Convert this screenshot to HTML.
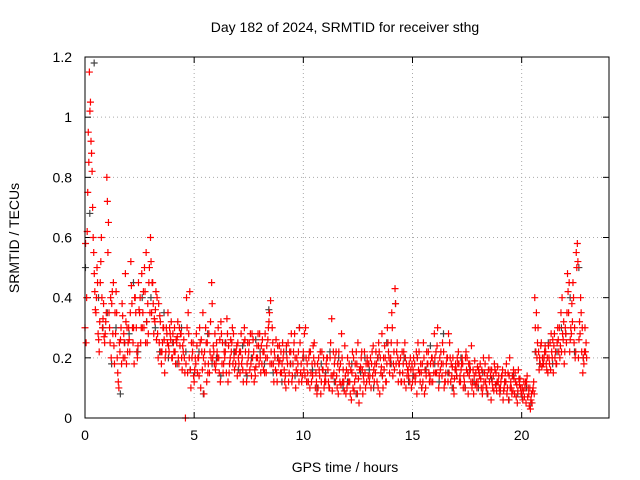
<!DOCTYPE html>
<html><head><meta charset="utf-8"><style>
body{margin:0;background:#fff}
svg{display:block;font-family:"Liberation Sans",sans-serif}
</style></head><body>
<svg id="chart" width="640" height="480">
<text x="345" y="32" text-anchor="middle" font-size="14">Day 182 of 2024, SRMTID for receiver sthg</text>
<text x="19" y="238" text-anchor="middle" font-size="14" transform="rotate(-90 19 238)">SRMTID / TECUs</text>
<text x="345" y="472" text-anchor="middle" font-size="14">GPS time / hours</text>
<g id="grid"></g>
<g id="ticks"></g>
<g id="grey"></g>
<g id="red"></g>
<rect x="85" y="57" width="524" height="361" fill="none" stroke="#000"/>
</svg>
<script>
const xTicks=[0,5,10,15,20];
const yTicks=[0,0.2,0.4,0.6,0.8,1,1.2];
const yTickLabels=["0","0.2","0.4","0.6","0.8","1","1.2"];
const redA=[
0.30,0.62,1.15,0.88,0.55,0.35,0.28,0.45,0.30,0.25,
0.80,0.35,0.20,0.45,0.28,0.15,0.22,0.38,0.25,0.18,
0.30,0.52,0.25,0.40,0.20,0.35,0.48,0.30,0.55,0.28,
0.60,0.45,0.32,0.40,0.25,0.18,0.30,0.22,0.35,0.28,
0.20,0.30,0.25,0.18,0.28,0.22,0.00,0.15,0.42,0.20,
0.12,0.28,0.20,0.10,0.35,0.18,0.25,0.15,0.45,0.22,
0.18,0.30,0.12,0.25,0.20,0.33,0.15,0.22,0.28,0.18,
0.25,0.15,0.20,0.30,0.12,0.22,0.18,0.26,0.14,0.20,
0.28,0.18,0.22,0.15,0.30,0.39,0.25,0.20,0.12,0.24,
0.15,0.22,0.10,0.25,0.18,0.14,0.28,0.20,0.12,0.18,
0.22,0.30,0.15,0.10,0.18,0.25,0.12,0.20,0.08,0.16,
0.14,0.20,0.10,0.33,0.15,0.22,0.08,0.18,0.12,0.24,
0.10,0.18,0.06,0.20,0.14,0.25,0.10,0.16,0.22,0.12,
0.18,0.10,0.24,0.15,0.20,0.08,0.28,0.16,0.12,0.22,
0.20,0.14,0.43,0.25,0.18,0.12,0.22,0.10,0.16,0.20,
0.12,0.18,0.08,0.22,0.15,0.25,0.10,0.18,0.14,0.20,
0.28,0.15,0.10,0.22,0.18,0.12,0.20,0.25,0.14,0.08,
0.16,0.22,0.12,0.18,0.10,0.20,0.14,0.24,0.08,0.15,
0.12,0.18,0.08,0.15,0.10,0.20,0.06,0.14,0.11,0.17,
0.08,0.14,0.10,0.18,0.06,0.12,0.09,0.15,0.05,0.11,
0.08,0.12,0.05,0.10,0.03,0.09,0.40,0.20,0.16,0.25,
0.18,0.22,0.15,0.25,0.20,0.28,0.18,0.22,0.35,0.26,
0.30,0.48,0.22,0.38,0.25,0.55,0.20,0.40,0.15,0.30];
const redB=[
0.25,0.95,1.05,0.70,0.42,0.50,0.22,0.60,0.38,0.32,
0.55,0.25,0.42,0.18,0.35,0.10,0.30,0.20,0.48,0.22,
0.22,0.38,0.18,0.30,0.45,0.25,0.35,0.42,0.25,0.50,
0.35,0.28,0.42,0.20,0.32,0.25,0.15,0.28,0.22,0.32,
0.25,0.18,0.32,0.24,0.16,0.20,0.40,0.28,0.10,0.25,
0.20,0.15,0.30,0.22,0.08,0.25,0.18,0.32,0.20,0.28,
0.22,0.15,0.28,0.18,0.25,0.12,0.20,0.30,0.16,0.24,
0.18,0.28,0.12,0.22,0.25,0.16,0.28,0.12,0.20,0.24,
0.15,0.22,0.28,0.20,0.35,0.18,0.12,0.26,0.20,0.15,
0.25,0.12,0.20,0.15,0.28,0.22,0.10,0.18,0.25,0.14,
0.28,0.12,0.20,0.15,0.24,0.10,0.18,0.14,0.22,0.10,
0.18,0.12,0.25,0.14,0.20,0.10,0.16,0.28,0.12,0.08,
0.15,0.08,0.22,0.12,0.18,0.05,0.20,0.14,0.10,0.18,
0.14,0.22,0.12,0.18,0.25,0.15,0.10,0.20,0.30,0.15,
0.35,0.22,0.18,0.12,0.20,0.15,0.25,0.14,0.18,0.10,
0.20,0.14,0.25,0.12,0.18,0.08,0.22,0.15,0.12,0.18,
0.15,0.30,0.20,0.14,0.10,0.18,0.28,0.12,0.20,0.16,
0.20,0.12,0.18,0.14,0.22,0.08,0.16,0.12,0.19,0.10,
0.15,0.10,0.20,0.12,0.08,0.16,0.12,0.18,0.09,0.14,
0.12,0.06,0.15,0.10,0.20,0.08,0.13,0.07,0.16,0.10,
0.06,0.10,0.14,0.04,0.08,0.12,0.22,0.30,0.18,0.20,
0.22,0.16,0.20,0.28,0.15,0.22,0.30,0.20,0.40,0.18,
0.25,0.35,0.30,0.45,0.20,0.58,0.32,0.22,0.18,0.25];
const redC=[
0.58,0.75,1.02,0.82,0.48,0.40,0.26,0.52,0.33,0.28,
0.72,0.30,0.38,0.24,0.42,0.12,0.26,0.34,0.20,0.30,
0.26,0.44,0.30,0.35,0.24,0.40,0.30,0.50,0.32,0.45,
0.52,0.38,0.36,0.28,0.34,0.22,0.26,0.30,0.24,0.26,
0.28,0.22,0.27,0.30,0.20,0.26,0.18,0.35,0.16,0.22,
0.16,0.24,0.14,0.26,0.20,0.30,0.15,0.22,0.38,0.18,
0.25,0.20,0.32,0.15,0.22,0.28,0.18,0.25,0.20,0.22,
0.20,0.22,0.16,0.26,0.18,0.25,0.14,0.22,0.17,0.28,
0.20,0.26,0.15,0.24,0.32,0.22,0.18,0.16,0.24,0.19,
0.18,0.16,0.24,0.12,0.22,0.18,0.20,0.15,0.30,0.12,
0.16,0.20,0.12,0.22,0.14,0.18,0.08,0.16,0.12,0.20,
0.12,0.16,0.20,0.09,0.18,0.14,0.22,0.11,0.16,0.14,
0.20,0.12,0.15,0.09,0.22,0.13,0.17,0.08,0.15,0.20,
0.12,0.18,0.16,0.22,0.10,0.20,0.14,0.24,0.18,0.20,
0.25,0.18,0.38,0.20,0.15,0.22,0.12,0.18,0.14,0.16,
0.16,0.12,0.20,0.15,0.10,0.20,0.14,0.22,0.18,0.12,
0.20,0.24,0.14,0.18,0.22,0.15,0.12,0.20,0.17,0.13,
0.14,0.18,0.16,0.10,0.20,0.15,0.18,0.10,0.14,0.12,
0.16,0.13,0.10,0.18,0.14,0.12,0.16,0.09,0.15,0.12,
0.10,0.16,0.12,0.08,0.14,0.10,0.16,0.12,0.09,0.13,
0.10,0.07,0.12,0.08,0.06,0.10,0.30,0.25,0.20,0.17,
0.20,0.18,0.24,0.16,0.26,0.20,0.25,0.30,0.22,0.32,
0.28,0.42,0.26,0.32,0.30,0.50,0.26,0.35,0.20,0.22];
const redD=[
0.40,0.85,0.92,0.60,0.36,0.45,0.32,0.40,0.27,0.35,
0.65,0.40,0.28,0.35,0.20,0.25,0.18,0.28,0.32,0.25,
0.35,0.30,0.40,0.22,0.36,0.30,0.42,0.25,0.38,0.35,
0.45,0.33,0.26,0.38,0.22,0.30,0.20,0.25,0.30,0.20,
0.22,0.26,0.20,0.28,0.24,0.15,0.30,0.20,0.25,0.14,
0.18,0.20,0.25,0.16,0.22,0.12,0.28,0.20,0.24,0.16,
0.20,0.26,0.18,0.22,0.15,0.24,0.26,0.18,0.22,0.14,
0.22,0.18,0.25,0.15,0.20,0.28,0.20,0.16,0.24,0.18,
0.24,0.16,0.20,0.26,0.18,0.30,0.22,0.15,0.18,0.22,
0.20,0.14,0.18,0.22,0.12,0.25,0.16,0.22,0.15,0.20,
0.14,0.18,0.22,0.12,0.20,0.15,0.10,0.22,0.16,0.12,
0.20,0.10,0.14,0.22,0.12,0.18,0.12,0.20,0.09,0.16,
0.12,0.16,0.10,0.18,0.08,0.16,0.22,0.12,0.18,0.14,
0.20,0.14,0.18,0.12,0.22,0.17,0.20,0.12,0.25,0.18,
0.30,0.16,0.22,0.18,0.12,0.18,0.20,0.16,0.12,0.18,
0.14,0.22,0.16,0.18,0.12,0.16,0.18,0.12,0.20,0.15,
0.22,0.18,0.16,0.25,0.12,0.20,0.15,0.18,0.10,0.18,
0.18,0.14,0.20,0.12,0.16,0.18,0.12,0.16,0.11,0.17,
0.14,0.16,0.12,0.10,0.16,0.14,0.10,0.16,0.12,0.10,
0.14,0.09,0.12,0.15,0.10,0.14,0.08,0.11,0.13,0.08,
0.09,0.12,0.07,0.10,0.05,0.08,0.35,0.22,0.24,0.18,
0.24,0.20,0.18,0.22,0.24,0.18,0.26,0.24,0.28,0.22,
0.35,0.45,0.28,0.40,0.22,0.52,0.28,0.30,0.22,0.20];
const greyC=[
0.50,0.68,1.18,0.40,0.30,
0.35,0.18,0.30,0.08,0.25,
0.28,0.45,0.22,0.40,0.32,
0.40,0.30,0.22,0.35,0.20,
0.25,0.18,0.30,0.22,0.16,
0.15,0.22,0.08,0.28,0.18,
0.20,0.14,0.25,0.18,0.22,
0.16,0.24,0.14,0.20,0.26,
0.22,0.18,0.36,0.15,0.20,
0.12,0.22,0.18,0.14,0.30,
0.20,0.12,0.16,0.10,0.18,
0.15,0.22,0.12,0.20,0.10,
0.12,0.18,0.08,0.15,0.20,
0.16,0.10,0.20,0.14,0.25,
0.18,0.38,0.15,0.20,0.12,
0.14,0.20,0.10,0.16,0.24,
0.18,0.12,0.28,0.15,0.10,
0.14,0.20,0.10,0.16,0.12,
0.10,0.15,0.08,0.13,0.11,
0.09,0.12,0.06,0.14,0.08,
0.07,0.10,0.05,0.22,0.18,
0.20,0.25,0.18,0.22,0.30,
0.28,0.40,0.22,0.50,0.20];
const NS="http://www.w3.org/2000/svg";
const X0=85,X1=609,Y0=418,Y1=57,XMAX=24,YMAX=1.2;
function xs(t){return X0+(X1-X0)*t/XMAX;}
function ys(v){return Y0-(Y0-Y1)*v/YMAX;}
function mk(tag,attrs,parent){const e=document.createElementNS(NS,tag);for(const k in attrs)e.setAttribute(k,attrs[k]);parent.appendChild(e);return e;}
const grid=document.getElementById('grid'),ticks=document.getElementById('ticks');
xTicks.forEach(t=>{const x=xs(t);
 if(t>0){const g=mk('line',{x1:x,y1:Y0,x2:x,y2:Y1,stroke:'#aaa','stroke-dasharray':'1,3'},grid);
 
 }
 mk('line',{x1:x,y1:Y0,x2:x,y2:Y0-6,stroke:'#000'},ticks);
 mk('line',{x1:x,y1:Y1,x2:x,y2:Y1+6,stroke:'#000'},ticks);
 const l=mk('text',{x:x,y:Y0+22,'text-anchor':'middle','font-size':14},ticks);l.textContent=t;
 
 
});
yTicks.forEach((v,i)=>{const y=ys(v);
 if(v>0&&v<YMAX){const g=mk('line',{x1:X0,y1:y,x2:X1,y2:y,stroke:'#aaa','stroke-dasharray':'1,3'},grid);
 
 }
 mk('line',{x1:X0,y1:y,x2:X0+6,y2:y,stroke:'#000'},ticks);
 mk('line',{x1:X1,y1:y,x2:X1-6,y2:y,stroke:'#000'},ticks);
 const l=mk('text',{x:X0-13,y:y+5,'text-anchor':'end','font-size':14},ticks);l.textContent=yTickLabels[i];
 
 
});
function plus(parent,t,v,color,name){const x=xs(t),y=ys(v);
 const p=mk('path',{d:`M${x-3.5},${y}H${x+3.5}M${x},${y-3.5}V${y+3.5}`,stroke:color,'stroke-width':1.2,fill:'none'},parent);
 
 
}
const grey=document.getElementById('grey'),red=document.getElementById('red');
greyC.forEach((v,i)=>plus(grey,0.02+i*0.2,v,'#444','grey-point'));
redA.forEach((v,i)=>plus(red,i*0.1,v,'#f00','red-point'));
redB.forEach((v,i)=>plus(red,0.05+i*0.1,v,'#f00','red-point'));
redC.forEach((v,i)=>plus(red,0.025+i*0.1,v,'#f00','red-point'));
redD.forEach((v,i)=>plus(red,0.075+i*0.1,v,'#f00','red-point'));
</script>
</body></html>
